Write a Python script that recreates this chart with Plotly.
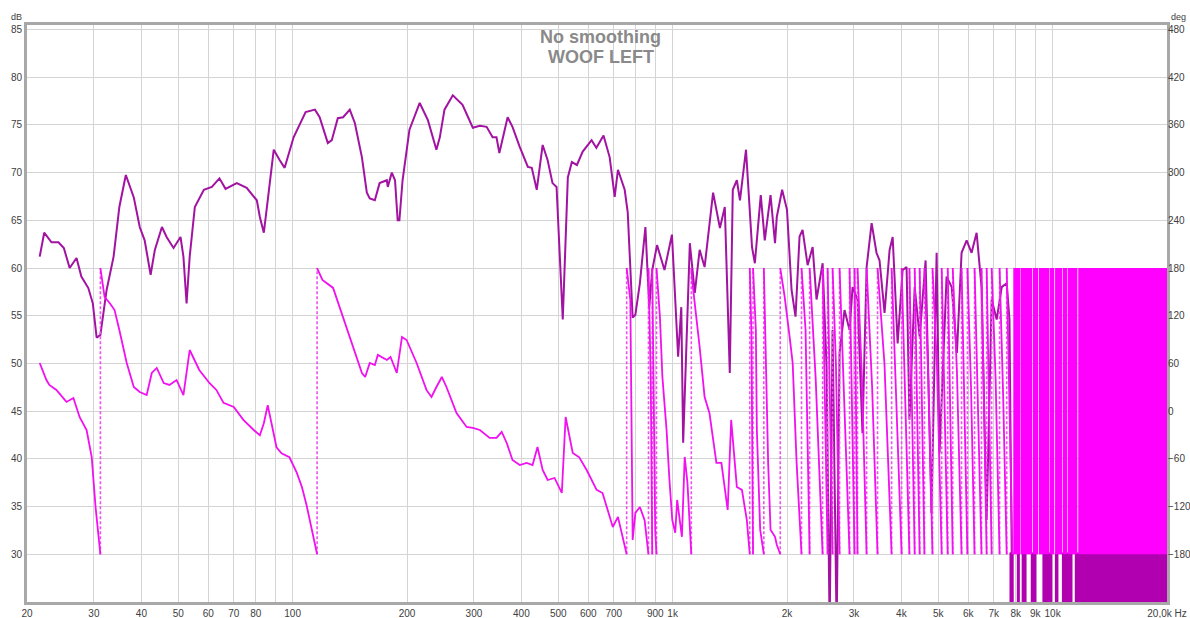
import plotly.graph_objects as go

# ---------------- SPL (dB) ----------------
spl_freq = [21.6, 22.2, 23.2, 24.2, 25.0, 25.9, 27.0, 27.8, 29.0, 29.8,
            30.5, 31.2, 32.4, 33.8, 35.0, 36.4, 38.2, 39.6, 40.8, 42.3,
            43.4, 45.3, 46.6, 48.6, 50.7, 51.6, 52.6, 53.6, 55.3, 58.4,
            61.3, 64.2, 66.6, 71.3, 75.7, 80.5, 82.0, 84.0, 86.0, 89.2,
            92.5, 95.3, 100.6, 108.2, 114.5, 117.8, 123.8, 126.8, 131.5, 135.8,
            141.4, 145.8, 152.2, 156.8, 159.6, 164.6, 169.4, 177, 178, 182.4,
            186, 189, 191, 194.7, 203, 216, 227, 239, 244, 251,
            264, 280, 298, 311, 324, 336, 344, 350, 368, 379,
            396, 416, 426, 439, 455, 469, 483, 495, 514, 530,
            543, 560, 580, 612, 630, 658, 683, 704, 718, 748,
            762, 780, 785, 798, 820, 848, 868, 884, 910, 952,
            996, 1034, 1054, 1066, 1110, 1144, 1178, 1214, 1278, 1332,
            1372, 1414, 1440, 1476, 1504, 1560, 1618, 1646, 1706, 1748,
            1810, 1860, 1880, 1942, 2000, 2056, 2106, 2158, 2198, 2266,
            2336, 2392, 2482, 2542, 2590, 2636, 2702, 2750, 2834, 2922,
            2976, 3066, 3160, 3240, 3340, 3440, 3504, 3612, 3724, 3794,
            3910, 4030, 4128, 4200, 4336, 4468, 4632, 4800, 4952, 5040,
            5260, 5426, 5600, 5760, 5940, 6120, 6310, 6500, 6706, 6912,
            7126, 7346, 7572, 7700, 7840]
spl_db = [61.2, 63.7, 62.7, 62.7, 62.1, 60.0, 61.05, 59.1, 57.9, 56.3,
          52.7, 53.0, 57.7, 61.2, 66.4, 69.75, 67.4, 64.3, 62.9, 59.3,
          61.9, 64.3, 63.25, 62.1, 63.25, 61.2, 56.3, 61.2, 66.4, 68.2,
          68.5, 69.4, 68.3, 68.9, 68.4, 67.1, 65.35, 63.7, 67.1, 72.4,
          71.3, 70.5, 73.7, 76.35, 76.6, 75.8, 73.1, 73.4, 75.7, 75.8,
          76.6, 75.2, 71.6, 67.9, 67.3, 67.1, 68.9, 69.2, 68.5, 70.0,
          69.2, 65.0, 65.0, 69.2, 74.5, 77.3, 75.5, 72.4, 73.7, 76.6,
          78.1, 77.1, 74.7, 74.9, 74.8, 73.7, 73.7, 72.05, 75.8, 74.8,
          72.7, 70.6, 70.5, 68.2, 72.9, 71.3, 68.9, 68.5, 54.6, 69.5,
          71.1, 70.8, 72.2, 73.4, 72.6, 73.9, 71.6, 67.45, 70.3, 68.2,
          65.8, 58.0, 54.8, 55.1, 58.4, 64.3, 55.9, 59.8, 62.4, 59.8,
          63.5, 50.7, 55.9, 41.7, 62.6, 57.4, 61.9, 60.1, 67.9, 64.2,
          66.4, 49.0, 68.2, 69.2, 67.1, 72.4, 62.2, 60.5, 67.65, 62.9,
          67.65, 62.6, 65.35, 68.2, 66.1, 57.7, 54.9, 63.3, 64.0, 60.3,
          62.2, 56.7, 60.5, 49.6, 22, 53.5, 22, 51.1, 55.6, 53.5,
          58.0, 56.7, 42.7, 60.1, 64.7, 61.6, 60.8, 55.3, 61.9, 63.25,
          52.1, 59.8, 60.1, 44.1, 58.0, 52.8, 60.8, 34.3, 61.6, 40.6,
          59.1, 58.0, 51.1, 61.6, 62.9, 61.6, 63.7, 58.0, 33.6, 56.7,
          54.6, 58.0, 58.4, 54.6, 22]
# frequency intervals where the SPL trace is too dense to resolve (fills below 30 dB)
spl_dense_start = [7700, 8050, 8290, 8760, 9400, 10140, 10580, 11440]
spl_dense_end = [7900, 8200, 8540, 9070, 9980, 10360, 11280, 20000]
spl_dense_low, spl_dense_high = 20, 30.2

# ---------------- Phase (deg) ----------------
phase_freq = [21.6, 22.5, 22.9, 23.9, 25.4, 26.5, 27.5, 28.7, 29.6, 30.3, 31.2, 31.2,
              32.0, 33.0, 34.0, 35.0, 36.6, 38.2, 39.6, 41.3, 42.6, 43.9, 45.8, 47.4,
              49.5, 51.6, 53.6, 56.8, 60.4, 63.0, 65.8, 70.0, 74.2, 79.0, 82, 84, 86, 88,
              90.7, 93.5, 98.1, 102.6, 105.8, 108.8, 112, 116, 116,
              119.8, 127.8, 135.8, 144, 152.2, 155.2, 159.6, 164.6, 167.6, 177, 181, 188,
              194, 199.5, 212, 225, 232, 239, 247, 254, 270, 287, 298, 311, 330, 344, 355,
              366, 379, 396, 413, 428, 441, 455, 469, 489, 511, 523, 546, 568, 594, 631,
              654, 671, 696, 718, 748, 757, 757,
              774, 785, 798, 820, 844, 864, 864, 876, 884, 884, 900, 907, 907,
              926, 940, 964, 981, 998, 1016, 1028, 1058, 1076, 1094, 1120, 1120,
              1128, 1178, 1214, 1250, 1304, 1344, 1396, 1426, 1476, 1522, 1568, 1596, 1596,
              1612, 1628, 1628, 1656, 1666, 1700, 1738, 1738, 1760, 1784, 1810, 1860, 1880,
              1920, 1920, 1972, 2032, 2070, 2120, 2184, 2184, 2238]
phase_deg = [60.6, 39.2, 33, 26.7, 11.6, 16.6, -7.3, -23.7, -57.6, -120.5, -180, 180,
             143.6, 136, 127.2, 102, 60.6, 30.4, 24.1, 20.3, 48, 54.3, 35.4, 33,
             39.2, 20.3, 76.9, 51.8, 35.4, 26.7, 10.4, 5.3, -11, -23.7, -30.3, -15.2, 7.5, -15.2,
             -45.4, -53, -58, -77.7, -95.4, -118, -145.7, -180, 180,
             165, 155, 118.4, 80.7, 48, 43, 60.6, 58, 70.7, 64.4, 68.2, 48,
             93.3, 89.5, 60.6, 26.7, 17.9, 30.4, 43, 30.4, -2.3, -19.9, -21, -23.7, -33.7, -33.7, -26.2,
             -40, -61.4, -67.7, -65, -67.7, -45, -74, -86.6, -84, -102.9, -7.3, -52.6, -58, -74, -99,
             -103, -120.5, -145.7, -133, -170.8, -180, 180,
             140, -162, -128, -120.5, -137, -180, 180, 40, -180, 180, -150, -180, 180,
             118.4, 43, -23.7, -86.6, -136.9, -153, -111.7, -158, -57.6, -90, -180, 180,
             161, 80.7, 17.8, -2.3, -65, -65, -124.3, -11, -95.4, -99, -137, -180, 180,
             100, -180, 180, 102, -23.7, -149, -180, 180, 60.6, -65, -149, -158, -168,
             -180, 180, 143.6, 93.3, 60.6, -65, -180, 180, 102]
# high-frequency phase wraps (each ramp runs from +180 down to -180) with one mid point
phase_hf_wraps = [2294, 2482, 2558, 2636, 2750, 2922, 3012, 3066, 3240, 3462, 3770, 4006,
                  4200, 4336, 4468, 4600, 4830, 5106, 5296, 5460, 5760, 5968, 6232, 6500,
                  6706, 6912, 7252, 7572, 7840]
phase_hf_mid_freq = [2380, 2520, 2595, 2690, 2830, 2965, 3040, 3150, 3350, 3610, 3880, 4100,
                     4270, 4400, 4530, 4710, 4960, 5200, 5380, 5600, 5860, 6100, 6360, 6600,
                     6810, 7080, 7410, 7700]
phase_hf_mid_deg = [40, 0, -20, 60, 20, 0, 0, 40, 30, 60, 20, 10,
                    0, 0, 20, 40, 60, 0, 0, 50, 20, 30, 20, 0,
                    0, 40, 20, 0]
# intervals where the phase wraps too fast to resolve (solid fill -180..180)
phase_dense_start = [7880, 8240, 8880, 9200, 9820, 10150, 10640, 10960, 11680]
phase_dense_end = [8220, 8840, 9160, 9790, 10100, 10600, 10920, 11620, 20000]

x_tickvals = [20, 30, 40, 50, 60, 70, 80, 90, 100, 200, 300, 400, 500, 600, 700, 800, 900,
              1000, 2000, 3000, 4000, 5000, 6000, 7000, 8000, 9000, 10000, 20000]
x_ticktext = ["20", "30", "40", "50", "60", "70", "80", "", "100", "200", "300", "400", "500",
              "600", "700", "", "900", "1k", "2k", "3k", "4k", "5k", "6k", "7k", "8k", "9k",
              "10k", "20,0k Hz"]
db_ticks = [30, 35, 40, 45, 50, 55, 60, 65, 70, 75, 80, 85]
deg_ticks = [-180, -120, -60, 0, 60, 120, 180, 240, 300, 360, 420, 480]

DB_MIN, DB_MAX = 25, 85.47
DEG_MIN, DEG_MAX = (DB_MIN - 45) * 12, (DB_MAX - 45) * 12

SPL_COLOR = "#A213A2"
SPL_FILL = "#B000B0"
PH_COLOR = "#F010F0"
PH_FILL = "#FF00FF"

# build full phase list with high-frequency ramps
pf = list(phase_freq)
pd_ = list(phase_deg)
pf.append(phase_hf_wraps[0]); pd_.append(-180)
for i in range(len(phase_hf_wraps) - 1):
    pf += [phase_hf_wraps[i], phase_hf_mid_freq[i], phase_hf_wraps[i + 1]]
    pd_ += [180, phase_hf_mid_deg[i], -180]

solid_x, solid_y, dash_x, dash_y = [], [], [], []
for i, (f, d) in enumerate(zip(pf, pd_)):
    if i > 0 and f == pf[i - 1] and abs(d - pd_[i - 1]) > 270:
        solid_x.append(None); solid_y.append(None)
        dash_x += [f, f, None]; dash_y += [pd_[i - 1], d, None]
    solid_x.append(f); solid_y.append(d)

fig = go.Figure()
fig.add_trace(go.Scatter(x=spl_freq, y=spl_db, mode="lines",
                         line=dict(color=SPL_COLOR, width=2), yaxis="y", hoverinfo="skip"))
for a, b in zip(spl_dense_start, spl_dense_end):
    fig.add_trace(go.Scatter(x=[a, a, b, b, a], y=[spl_dense_low, spl_dense_high, spl_dense_high, spl_dense_low, spl_dense_low],
                             mode="lines", fill="toself", fillcolor=SPL_FILL,
                             line=dict(width=0, color=SPL_FILL), yaxis="y", hoverinfo="skip"))
for a, b in zip(phase_dense_start, phase_dense_end):
    fig.add_trace(go.Scatter(x=[a, a, b, b, a], y=[-180, 180, 180, -180, -180],
                             mode="lines", fill="toself", fillcolor=PH_FILL,
                             line=dict(width=0, color=PH_FILL), yaxis="y2", hoverinfo="skip"))
fig.add_trace(go.Scatter(x=dash_x, y=dash_y, mode="lines", yaxis="y2",
                         line=dict(color="#F050F0", width=1.6, dash="3px,2px"), hoverinfo="skip"))
fig.add_trace(go.Scatter(x=solid_x, y=solid_y, mode="lines", yaxis="y2",
                         line=dict(color=PH_COLOR, width=1.8), connectgaps=False, hoverinfo="skip"))

tickfont = dict(family="Liberation Sans, Arial, sans-serif", size=10, color="#404040")
fig.update_layout(
    width=1190, height=618,
    margin=dict(l=27, r=23, t=25, b=16),
    paper_bgcolor="white", plot_bgcolor="white",
    showlegend=False,
    xaxis=dict(type="log", range=[1.30103, 4.30103], tickvals=x_tickvals, ticktext=x_ticktext,
               showgrid=True, gridcolor="#D4D4D4", gridwidth=1, zeroline=False,
               showline=True, linecolor="#A8A8A8", linewidth=3, mirror=True,
               ticks="", tickfont=tickfont, automargin=False),
    yaxis=dict(range=[DB_MIN, DB_MAX], tickvals=db_ticks, showgrid=True, gridcolor="#D4D4D4",
               gridwidth=1, zeroline=False, showline=True, linecolor="#A8A8A8", linewidth=3,
               mirror=True, ticks="", tickfont=tickfont, automargin=False),
    yaxis2=dict(range=[DEG_MIN, DEG_MAX], tickvals=deg_ticks, overlaying="y", side="right",
                showgrid=False, zeroline=False, showline=False, ticks="", tickfont=tickfont,
                automargin=False),
    annotations=[
        dict(text="<b>No smoothing</b>", x=0.5035, y=0.979, xref="paper", yref="paper",
             showarrow=False, xanchor="center", yanchor="middle",
             font=dict(family="Liberation Sans, Arial, sans-serif", size=18, color="#8A8A8A")),
        dict(text="<b>WOOF LEFT</b>", x=0.5035, y=0.944, xref="paper", yref="paper",
             showarrow=False, xanchor="center", yanchor="middle",
             font=dict(family="Liberation Sans, Arial, sans-serif", size=18, color="#8A8A8A")),
        dict(text="dB", x=-0.0088, y=1.014, xref="paper", yref="paper", showarrow=False,
             xanchor="center", yanchor="middle",
             font=dict(family="Liberation Sans, Arial, sans-serif", size=9, color="#404040")),
        dict(text="deg", x=1.0105, y=1.014, xref="paper", yref="paper", showarrow=False,
             xanchor="center", yanchor="middle",
             font=dict(family="Liberation Sans, Arial, sans-serif", size=9, color="#404040")),
    ],
)

fig.write_html("out.html", config={"displayModeBar": False},
               post_script="document.body.style.margin='0';document.body.style.padding='0';"
                           "document.documentElement.style.overflow='hidden';")
